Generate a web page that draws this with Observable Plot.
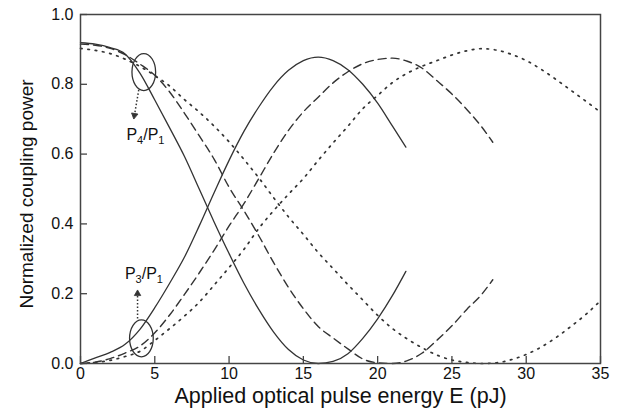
<!DOCTYPE html>
<html><head><meta charset="utf-8">
<script src="https://cdn.jsdelivr.net/npm/d3@7"></script>
<script src="https://cdn.jsdelivr.net/npm/@observablehq/plot@0.6"></script>
<style>
body{margin:0;background:#fff}
svg{font-family:"Liberation Sans",Arial,sans-serif}
</style>
</head><body><div id="chart"></div>
<script>
// ---- data ----
const xSolid  = [0,1,2,3,4,5,6,7,8,9,10,11,12,13,14,15,16,17,18,19,20,21,21.9];
const p3Solid = [0,0.016,0.032,0.055,0.098,0.16,0.23,0.305,0.395,0.49,0.582,0.665,0.735,0.795,0.84,0.868,0.878,0.868,0.842,0.8,0.746,0.68,0.62];
const p4Solid = [0.919,0.915,0.905,0.887,0.832,0.755,0.675,0.593,0.499,0.405,0.315,0.23,0.155,0.09,0.04,0.01,0.0,0.006,0.028,0.072,0.128,0.195,0.264];

const xDashed  = [0,1,2,3,4,5,6,7,8,9,10,11,12,13,14,15,16,17,18,19,20,21,22,23,24,25,26,27,27.75];
const p3Dashed = [0,0.004,0.014,0.03,0.05,0.088,0.139,0.198,0.26,0.325,0.394,0.458,0.53,0.603,0.668,0.721,0.763,0.804,0.836,0.859,0.871,0.875,0.866,0.846,0.81,0.772,0.728,0.678,0.634];
const p4Dashed = [0.915,0.912,0.903,0.885,0.858,0.826,0.778,0.717,0.652,0.585,0.505,0.438,0.366,0.289,0.218,0.157,0.106,0.073,0.042,0.013,0.002,0.0,0.008,0.03,0.067,0.108,0.155,0.198,0.24];

const xDotted  = [0,1,2,3,4,5,6,7,8,9,10,11,12,13,14,15,16,17,18,19,20,21,22,23,24,25,26,27,28,29,30,31,32,33,34,35];
const p3Dotted = [0,0.003,0.009,0.02,0.035,0.066,0.1,0.136,0.176,0.225,0.275,0.327,0.387,0.438,0.485,0.53,0.582,0.632,0.68,0.73,0.768,0.805,0.832,0.852,0.868,0.884,0.896,0.902,0.898,0.886,0.868,0.843,0.814,0.783,0.752,0.72];
const p4Dotted = [0.903,0.897,0.888,0.872,0.851,0.825,0.795,0.756,0.72,0.68,0.635,0.585,0.532,0.475,0.42,0.37,0.318,0.272,0.226,0.182,0.138,0.1,0.07,0.045,0.024,0.01,0.003,0.0,0.002,0.011,0.026,0.047,0.074,0.106,0.14,0.18];

const xTicks = [0,5,10,15,20,25,30,35];
const yTicks = [0,0.2,0.4,0.6,0.8,1.0];
const xTitle = "Applied optical pulse energy E (pJ)";
const yTitle = "Normalized coupling power";

// annotations (data coordinates)
const ellipseX = [4.26, 4.1];
const ellipseY = [0.835, 0.072];
const labelText = ["P4/P1", "P3/P1"];
const labelX = [4.37, 4.27];
const labelY = [0.654, 0.257];
const arrowX1 = [3.92, 3.84], arrowY1 = [0.784, 0.129];
const arrowX2 = [3.63, 3.84], arrowY2 = [0.711, 0.2];
const arrowRotate = [190, 0];

// ---- build tables ----
const zipXY = (xs, ys, id) => xs.map((x, i) => ({x, y: ys[i], id}));
const solid  = [...zipXY(xSolid, p3Solid, "p3"), ...zipXY(xSolid, p4Solid, "p4")];
const dashed = [...zipXY(xDashed, p3Dashed, "p3"), ...zipXY(xDashed, p4Dashed, "p4")];
const dotted = [...zipXY(xDotted, p3Dotted, "p3"), ...zipXY(xDotted, p4Dotted, "p4")];
const ellipses = ellipseX.map((x, i) => ({x, y: ellipseY[i]}));
const labels = labelText.map((t, i) => ({t, x: labelX[i], y: labelY[i]}));
const arrows = arrowX1.map((x1, i) => ({x1, y1: arrowY1[i], x2: arrowX2[i], y2: arrowY2[i], r: arrowRotate[i]}));

const ellipseSymbol = {
  draw(ctx, size) {
    const ry = Math.sqrt(size / Math.PI), rx = ry * 0.64, k = 0.5523;
    ctx.moveTo(0, -ry);
    ctx.bezierCurveTo(k * rx, -ry, rx, -k * ry, rx, 0);
    ctx.bezierCurveTo(rx, k * ry, k * rx, ry, 0, ry);
    ctx.bezierCurveTo(-k * rx, ry, -rx, k * ry, -rx, 0);
    ctx.bezierCurveTo(-rx, -k * ry, -k * rx, -ry, 0, -ry);
    ctx.closePath();
  }
};

const ink = "#333";
const plot = Plot.plot({
  width: 630, height: 412,
  marginLeft: 80, marginRight: 30, marginTop: 14, marginBottom: 49,
  x: {domain: [0, 35]},
  y: {domain: [0, 1.0]},
  style: {fontFamily: "'Liberation Sans', Arial, sans-serif", color: "#111", background: "#fff"},
  marks: [
    Plot.line(solid,  {x: "x", y: "y", z: "id", stroke: ink, strokeWidth: 1.3, curve: "monotone-x"}),
    Plot.line(dashed, {x: "x", y: "y", z: "id", stroke: ink, strokeWidth: 1.4, strokeDasharray: "8,5", curve: "monotone-x"}),
    Plot.line(dotted, {x: "x", y: "y", z: "id", stroke: ink, strokeWidth: 1.7, strokeDasharray: "1.6,5.8", curve: "monotone-x"}),
    Plot.dot(ellipses, {x: "x", y: "y", r: 18.5, symbol: ellipseSymbol, stroke: ink, strokeWidth: 1.3, fill: "none"}),
    Plot.link(arrows, {x1: "x1", y1: "y1", x2: "x2", y2: "y2", stroke: ink, strokeWidth: 1.5, strokeDasharray: "1.5,2"}),
    Plot.dot(arrows, {x: "x2", y: "y2", r: 2.4, symbol: "triangle", rotate: "r", fill: ink, stroke: ink, strokeWidth: 0.8}),
    Plot.text(labels, {x: "x", y: "y", text: "t", fontSize: 16, fill: "#111"}),
    Plot.frame({stroke: "#444", strokeWidth: 1.5}),
    Plot.axisX({ticks: xTicks, tickSize: -7, tickPadding: 11, fontSize: 16, tickFormat: d => String(d), label: null, stroke: "#444", strokeWidth: 1.3}),
    Plot.axisY({ticks: yTicks, tickSize: -7, tickPadding: 14, fontSize: 16, tickFormat: d => d.toFixed(1), label: null, stroke: "#444", strokeWidth: 1.3}),
    Plot.text([xTitle], {frameAnchor: "bottom", textAnchor: "middle", lineAnchor: "middle", dy: 33, fontSize: 21.5, fill: "#111"}),
    Plot.text([yTitle], {frameAnchor: "left", textAnchor: "middle", lineAnchor: "middle", rotate: -90, dx: -54, dy: 5, fontSize: 19, fill: "#111"})
  ]
});

// subscripts in the annotation labels
plot.querySelectorAll("text").forEach(el => {
  const m = /^P(\d)\/P(\d)$/.exec(el.textContent);
  if (!m) return;
  el.textContent = "";
  const ns = "http://www.w3.org/2000/svg";
  const add = (txt, fs, dy) => {
    const t = document.createElementNS(ns, "tspan");
    t.textContent = txt;
    t.setAttribute("font-size", fs);
    if (dy) t.setAttribute("dy", dy);
    el.appendChild(t);
  };
  add("P", 16, 0); add(m[1], 11, 4); add("/P", 16, -4); add(m[2], 11, 4);
});

document.getElementById("chart").appendChild(plot);
</script>
</body></html>
